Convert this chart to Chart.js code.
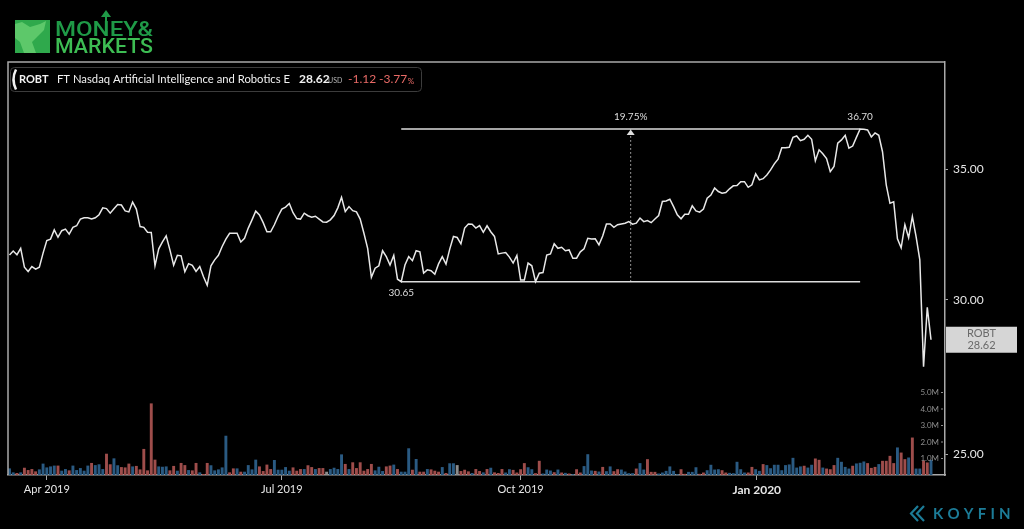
<!DOCTYPE html>
<html>
<head>
<meta charset="utf-8">
<script src="https://cdn.jsdelivr.net/npm/chart.js@4.4.1/dist/chart.umd.min.js"></script>
<style>
  html, body { margin: 0; padding: 0; background: #000; }
  #wrap { width: 1024px; height: 529px; }
</style>
</head>
<body>
<div id="wrap"><canvas id="chart" width="1024" height="529"></canvas></div>
<script>
// ROBT daily closes, Mar 2019 - Mar 2020
var prices = [
  31.63, 31.78, 31.64, 31.88, 31.18, 31.02, 31.20, 31.11, 31.18, 31.70,
  32.17, 32.23, 32.58, 32.30, 32.55, 32.61, 32.42, 32.68, 32.74, 33.00,
  33.05, 33.05, 33.00, 33.05, 33.17, 33.44, 33.41, 33.23, 33.40, 33.57,
  33.55, 33.32, 33.28, 33.67, 33.39, 32.71, 32.68, 32.49, 32.48, 31.23,
  31.86, 32.12, 32.35, 31.82, 31.25, 31.62, 31.60, 31.01, 31.31, 31.25,
  31.02, 31.20, 30.83, 30.52, 31.23, 31.45, 31.62, 31.95, 32.23, 32.45,
  32.45, 32.45, 32.12, 32.26, 32.65, 32.97, 33.31, 33.16, 32.86, 32.51,
  32.51, 32.78, 33.11, 33.39, 33.47, 33.61, 33.25, 33.02, 33.00, 33.23,
  33.13, 33.07, 33.11, 33.00, 32.89, 32.88, 32.97, 33.14, 33.44, 33.86,
  33.29, 33.49, 33.33, 33.28, 33.00, 32.45, 31.88, 30.81, 31.14, 31.23,
  31.79, 31.57, 31.26, 31.62, 30.74, 30.65, 31.26, 31.57, 31.42, 31.79,
  31.75, 30.96, 31.08, 31.05, 30.92, 31.30, 31.57, 31.29, 31.85, 32.33,
  32.29, 32.05, 32.65, 32.81, 32.80, 32.65, 32.75, 32.49, 32.74, 32.51,
  32.33, 31.67, 31.70, 31.72, 31.55, 31.33, 31.61, 30.71, 30.71, 31.33,
  31.23, 30.65, 30.96, 30.98, 31.63, 31.67, 32.05, 31.88, 31.92, 31.79,
  31.82, 31.51, 31.51, 31.75, 31.86, 32.26, 32.23, 32.24, 32.01, 32.35,
  32.81, 32.81, 32.68, 32.78, 32.81, 32.84, 32.90, 32.80, 32.84, 33.04,
  32.90, 32.94, 32.86, 33.00, 33.14, 33.69, 33.71, 33.78, 33.49, 33.17,
  33.01, 33.19, 33.19, 33.52, 33.32, 33.27, 33.39, 33.82, 33.95, 34.23,
  34.09, 34.02, 34.05, 34.20, 34.32, 34.33, 34.49, 34.49, 34.26, 34.36,
  34.81, 34.56, 34.61, 34.76, 34.97, 35.22, 35.42, 35.90, 35.90, 35.92,
  36.34, 36.40, 36.20, 36.26, 36.43, 36.26, 35.35, 35.81, 35.64, 35.44,
  34.90, 35.11, 36.09, 36.23, 36.43, 35.88, 35.97, 36.34, 36.70, 36.69,
  36.66, 36.36, 36.53, 36.43, 35.73, 34.36, 33.62, 33.68, 32.24, 31.90,
  32.78, 32.28, 33.10, 32.32, 31.45, 27.72, 29.74, 28.62
];

// daily volume, millions
var volumes = [
  0.40, 0.16, 0.12, 0.16, 0.44, 0.30, 0.36, 0.22, 0.34, 0.69,
  0.46, 0.52, 0.57, 0.57, 0.26, 0.36, 0.28, 0.57, 0.30, 0.42,
  0.26, 0.57, 0.73, 0.60, 0.65, 0.36, 1.29, 0.65, 1.01, 0.59,
  0.48, 0.46, 0.69, 0.52, 0.55, 0.34, 1.58, 0.28, 4.34, 0.93,
  0.52, 0.50, 0.52, 0.28, 0.55, 0.26, 0.73, 0.60, 0.30, 0.28,
  0.73, 0.16, 0.06, 0.73, 0.59, 0.28, 0.34, 0.46, 2.38, 0.16,
  0.40, 0.40, 0.20, 0.20, 0.60, 0.34, 0.93, 0.52, 0.24, 0.63,
  0.36, 0.91, 0.32, 0.32, 0.48, 0.26, 0.46, 0.26, 0.36, 0.36,
  0.59, 0.48, 0.36, 0.42, 0.42, 0.20, 0.36, 0.44, 0.36, 1.25,
  0.67, 0.36, 0.77, 0.42, 0.77, 0.26, 0.36, 0.67, 0.28, 0.50,
  0.24, 0.52, 0.57, 0.63, 0.36, 0.20, 0.20, 1.62, 0.32, 0.97,
  0.20, 0.20, 0.36, 0.34, 0.26, 0.20, 0.48, 0.12, 0.71, 0.71,
  0.60, 0.24, 0.32, 0.22, 0.12, 0.36, 0.24, 0.16, 0.36, 0.44,
  0.16, 0.12, 0.36, 0.15, 0.35, 0.31, 0.15, 0.35, 0.72, 0.47,
  0.35, 0.11, 0.86, 0.09, 0.33, 0.27, 0.17, 0.33, 0.15, 0.13,
  0.09, 0.05, 0.35, 0.15, 0.54, 1.26, 0.27, 0.25, 0.21, 0.49,
  0.23, 0.52, 0.23, 0.35, 0.33, 0.21, 0.11, 0.11, 0.39, 0.72,
  0.33, 0.96, 0.19, 0.19, 0.09, 0.15, 0.25, 0.52, 0.25, 0.05,
  0.35, 0.07, 0.19, 0.19, 0.47, 0.07, 0.15, 0.29, 0.62, 0.33,
  0.35, 0.29, 0.15, 0.13, 0.11, 0.80, 0.35, 0.15, 0.15, 0.49,
  0.35, 0.25, 0.66, 0.60, 0.41, 0.62, 0.62, 0.29, 0.60, 0.64,
  1.04, 0.45, 0.52, 0.56, 0.45, 0.62, 1.00, 0.92, 0.45, 0.39,
  0.35, 0.60, 1.04, 0.80, 0.49, 0.39, 0.56, 0.70, 0.74, 0.82,
  0.72, 0.43, 0.49, 0.66, 0.86, 0.86, 1.16, 0.72, 1.67, 1.36,
  0.96, 1.06, 2.27, 0.39, 0.39, 0.88, 0.76, 0.92
];

// bar colour per day: b = up, r = down, g = flat
var volDir = (
  "bbrbrrrrbb" + "bbbrbbrbbb" + "bbrbbbrrbb" + "rrrbrrrrrr" +
  "bbbrrbrrbr" + "rbrrbbbbbr" + "rbrbbbbrrr" + "rbbbbbrrrb" +
  "rrbrrgbbbb" + "rbrrrrrrbb" + "brrbrbbbrb" + "rrbrrrbrbb" +
  "grrrbrrbrb" + "rrrbbrrrrb" + "brrbbbrbrb" + "rbrrbbbrbr" +
  "bbrrbbbbrb" + "brrrbbbbbb" + "rrbbbrrbbb" + "brrbbbbbrr" +
  "bbrbbbbbbb" + "bbbrbbrrbr" + "rrbbbbrbbb" + "rrrbrrrrbr" +
  "rbrbbrrb"
).split("");

var xTickIdx = [10, 73, 137, 200.3];
var xTickLabels = ["Apr 2019", "Jul 2019", "Oct 2019", "Jan 2020"];
var priceTicks = [25, 30, 35];
var volTicks = [1, 2, 3, 4, 5];

// low -> high measurement
var rangeIdx = [105, 228];
var rangePrice = [30.65, 36.70];
var rangeLabels = ["30.65", "36.70", "19.75%"];

var ticker = "ROBT";
var fundName = "FT Nasdaq Artificial Intelligence and Robotics E";
var lastPrice = "28.62";
var change = "-1.12";
var changePct = "-3.77";

var RED = "#9e4d4b", BLUE = "#2a5a82", GREY = "#8c8c8c";
var LINE = "#e8e8e8", FRAME = "#a9a9a9";

function fitText(c, txt, x, y, w) {
  var m = c.measureText(txt).width;
  c.save();
  c.translate(x, y);
  c.scale(w / m, 1);
  c.fillText(txt, 0, 0);
  c.restore();
}

var decor = {
  id: "decor",
  beforeDraw: function (chart) {
    var c = chart.ctx;
    c.save();
    c.fillStyle = "#000";
    c.fillRect(0, 0, chart.width, chart.height);
    c.restore();
  },
  afterDraw: function (chart) {
    var c = chart.ctx, a = chart.chartArea;
    var xs = chart.scales.x, ys = chart.scales.y, yv = chart.scales.yVol;
    c.save();

    // left and top frame lines
    c.strokeStyle = FRAME;
    c.lineWidth = 1.5;
    c.beginPath();
    c.moveTo(a.left, a.bottom);
    c.lineTo(a.left, a.top);
    c.lineTo(a.right, a.top);
    c.stroke();

    // volume axis labels (inside the plot)
    c.font = "8px Lato";
    c.fillStyle = "#8f8f8f";
    c.textAlign = "right";
    c.textBaseline = "middle";
    volTicks.forEach(function (v) {
      var py = yv.getPixelForValue(v);
      c.fillText(v.toFixed(1) + "M", a.right - 6, py);
      c.fillRect(a.right - 4, py - 0.5, 2, 1);
    });

    // measurement labels + arrow
    var xl = xs.getPixelForValue(rangeIdx[0]);
    var xh = xs.getPixelForValue(rangeIdx[1]);
    var xm = xs.getPixelForValue((rangeIdx[0] + rangeIdx[1]) / 2);
    var yl = ys.getPixelForValue(rangePrice[0]);
    var yh = ys.getPixelForValue(rangePrice[1]);
    c.font = "10px Lato";
    c.fillStyle = "#dedede";
    c.textAlign = "center";
    c.fillText(rangeLabels[0], xl, yl + 11);
    c.fillText(rangeLabels[1], xh, yh - 12);
    c.fillText(rangeLabels[2], xm, yh - 12);
    c.beginPath();
    c.moveTo(xm, yh + 0.5);
    c.lineTo(xm - 4, yh + 6);
    c.lineTo(xm + 4, yh + 6);
    c.closePath();
    c.fill();

    // last price tag on the axis
    var pl = ys.getPixelForValue(prices[prices.length - 1]);
    c.fillStyle = "#d6d6d6";
    c.fillRect(a.right + 1, pl - 13, 71, 26);
    c.fillStyle = "#6a6a6a";
    c.font = "11px Lato";
    c.fillText(ticker, a.right + 36.5, pl - 6);
    c.fillText(lastPrice, a.right + 36.5, pl + 6);

    // header box
    c.strokeStyle = "#3c3c3c";
    c.lineWidth = 1;
    c.beginPath();
    c.roundRect(10.5, 67.5, 411, 24, 4);
    c.stroke();
    c.strokeStyle = "#f0f0f0";
    c.lineWidth = 2.5;
    c.beginPath();
    c.moveTo(16, 69.5);
    c.quadraticCurveTo(11, 79.5, 16, 89.5);
    c.stroke();
    c.textAlign = "left";
    c.fillStyle = "#f2f2f2";
    c.font = "bold 11px Lato";
    c.fillText(ticker, 19, 79.5);
    c.font = "11.5px Lato";
    fitText(c, fundName, 57, 79.5, 233);
    c.font = "bold 12px Lato";
    c.fillText(lastPrice, 299, 79.5);
    c.font = "7px Lato";
    c.fillStyle = "#b5b5b5";
    c.fillText("USD", 328, 81);
    c.fillStyle = "#e86a66";
    c.font = "12px Lato";
    c.fillText(change, 348, 79.5);
    c.fillText(changePct, 379, 79.5);
    var wp = c.measureText(changePct).width;
    c.font = "8px Lato";
    c.fillText("%", 379 + wp + 0.5, 81);

    // Money & Markets logo
    c.fillStyle = "#2fa94c";
    c.fillRect(15, 20, 35, 33);
    c.fillStyle = "#5dc86a";
    c.beginPath();
    c.moveTo(15, 24); c.lineTo(22, 22); c.lineTo(30, 27); c.lineTo(40, 24);
    c.lineTo(46, 21); c.lineTo(44, 30); c.lineTo(38, 36); c.lineTo(32, 42);
    c.lineTo(36, 53); c.lineTo(24, 53); c.lineTo(20, 42); c.lineTo(15, 38);
    c.closePath();
    c.fill();
    c.fillStyle = "#1f9a47";
    c.font = "500 20px Roboto";
    c.textBaseline = "alphabetic";
    fitText(c, "MONEY&", 55, 36, 98);
    c.fillStyle = "#3dbd53";
    fitText(c, "MARKETS", 55, 53, 98);
    c.strokeStyle = "#1f9a47";
    c.lineWidth = 2;
    c.beginPath();
    c.moveTo(106, 21); c.lineTo(106, 13);
    c.stroke();
    c.fillStyle = "#1f9a47";
    c.beginPath();
    c.moveTo(101, 17); c.lineTo(106, 10); c.lineTo(111, 17);
    c.closePath();
    c.fill();

    // Koyfin logo
    c.strokeStyle = "#1c7c98";
    c.lineWidth = 2.2;
    c.beginPath();
    c.moveTo(918, 506); c.lineTo(911, 513.5); c.lineTo(918, 521);
    c.moveTo(924, 506); c.lineTo(917, 513.5); c.lineTo(924, 521);
    c.stroke();
    c.fillStyle = "#1c7c98";
    c.font = "bold 15px Lato";
    c.textBaseline = "middle";
    var kx = 933;
    "KOYFIN".split("").forEach(function (ch) {
      c.fillText(ch, kx, 514);
      kx += c.measureText(ch).width + 4.2;
    });

    c.restore();
  }
};

var ctx = document.getElementById("chart").getContext("2d");

var chart = new Chart(ctx, {
  type: "line",
  data: {
    datasets: [
      {
        label: ticker,
        data: prices.map(function (p, i) { return { x: i, y: p }; }),
        yAxisID: "y",
        borderColor: LINE,
        borderWidth: 1.5,
        pointRadius: 0,
        tension: 0,
        order: 0
      },
      {
        data: [{ x: rangeIdx[0], y: rangePrice[1] }, { x: rangeIdx[1], y: rangePrice[1] }],
        yAxisID: "y",
        borderColor: "#dcdcdc",
        borderWidth: 1.5,
        pointRadius: 0,
        order: 1
      },
      {
        data: [{ x: rangeIdx[0], y: rangePrice[0] }, { x: rangeIdx[1], y: rangePrice[0] }],
        yAxisID: "y",
        borderColor: "#dcdcdc",
        borderWidth: 1.5,
        pointRadius: 0,
        order: 1
      },
      {
        data: [
          { x: (rangeIdx[0] + rangeIdx[1]) / 2, y: rangePrice[0] },
          { x: (rangeIdx[0] + rangeIdx[1]) / 2, y: rangePrice[1] }
        ],
        yAxisID: "y",
        borderColor: "#bdbdbd",
        borderWidth: 1,
        borderDash: [1.5, 2.5],
        pointRadius: 0,
        order: 1
      },
      {
        type: "bar",
        data: volumes.map(function (v, i) { return { x: i, y: v }; }),
        yAxisID: "yVol",
        backgroundColor: volDir.map(function (d) {
          return d === "r" ? RED : (d === "g" ? GREY : BLUE);
        }),
        barPercentage: 1,
        categoryPercentage: 0.78,
        order: 2
      }
    ]
  },
  options: {
    responsive: false,
    animation: false,
    layout: { padding: { left: 8, top: 62, right: 0, bottom: 0 } },
    plugins: { legend: { display: false }, tooltip: { enabled: false } },
    scales: {
      x: {
        type: "linear",
        bounds: "data",
        offset: false,
        min: -0.4,
        max: 250.75,
        afterFit: function (s) { s.height = 54; },
        afterBuildTicks: function (s) {
          s.ticks = xTickIdx.map(function (v) { return { value: v }; });
        },
        grid: { offset: false, drawOnChartArea: false, color: FRAME, tickLength: 5, lineWidth: 1 },
        border: { color: FRAME, width: 1.5 },
        ticks: {
          autoSkip: false,
          maxRotation: 0,
          padding: 3,
          color: "#e6e6e6",
          font: function (c) {
            return c.index === 3
              ? { family: "Lato", size: 12, weight: "bold" }
              : { family: "Lato", size: 11 };
          },
          callback: function (v, i) { return xTickLabels[i]; }
        }
      },
      y: {
        type: "logarithmic",
        position: "right",
        bounds: "data",
        min: 24.398,
        max: 39.72,
        afterFit: function (s) { s.width = 79; },
        afterBuildTicks: function (s) {
          s.ticks = priceTicks.map(function (v) { return { value: v }; });
        },
        grid: { drawOnChartArea: false, color: FRAME, tickLength: 3 },
        border: { color: FRAME, width: 1.5 },
        ticks: {
          padding: 5,
          color: "#e6e6e6",
          font: { family: "Lato", size: 12 },
          callback: function (v) { return Number(v).toFixed(2); }
        }
      },
      yVol: {
        type: "linear",
        display: false,
        min: 0,
        max: 25.03
      }
    }
  },
  plugins: [decor]
});
</script>
</body>
</html>
